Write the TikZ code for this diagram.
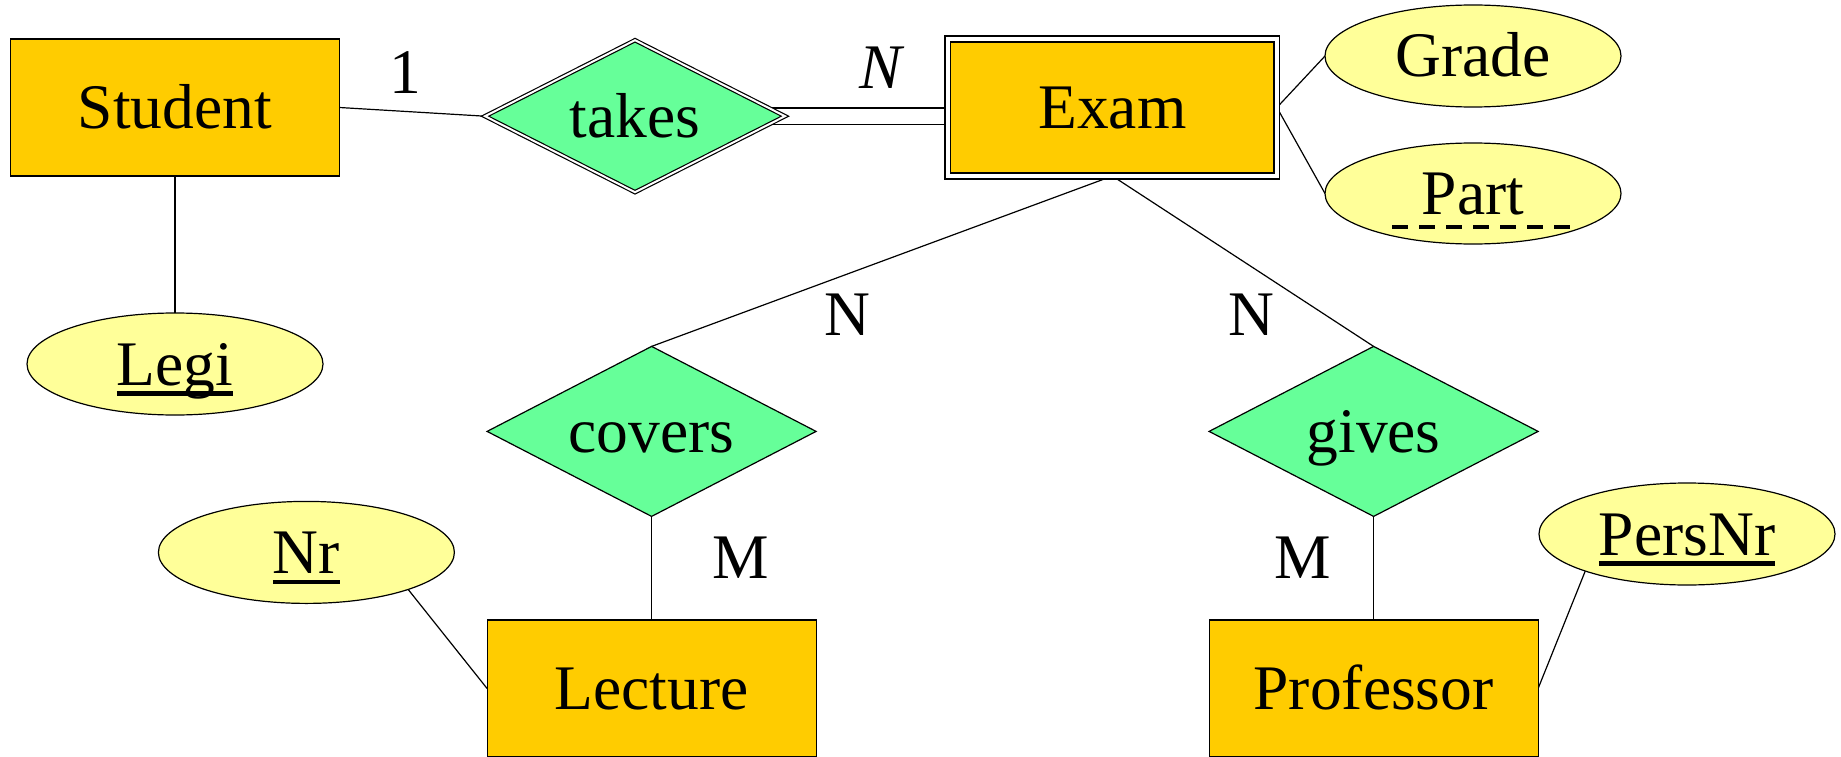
\documentclass[tikz,border=0pt]{standalone}
\usepackage{fontspec}
\setmainfont{Liberation Serif}
\usetikzlibrary{shapes.geometric,backgrounds,calc}
\definecolor{entfill}{HTML}{FFCC00}
\definecolor{relfill}{HTML}{66FF99}
\definecolor{attfill}{HTML}{FFFF99}
\newcommand\keyul[1]{\setbox0\hbox{#1}\rlap{\copy0}\rule[-10.5pt]{\wd0}{4.2pt}}
\begin{document}
\begin{tikzpicture}[x=1pt,y=-1pt,
  font=\fontsize{63.5pt}{76pt}\selectfont,
  every node/.style={inner sep=0pt, outer sep=0pt, text height=42pt, text depth=0pt},
  entity/.style={draw, line width=1.2pt, fill=entfill, minimum width=329pt, minimum height=137pt},
  weakentity/.style={entity, double=white, double distance=3.5pt, line width=1.8pt},
  rel/.style={diamond, draw, line width=1.2pt, fill=relfill, minimum width=329pt, minimum height=170pt},
  weakrel/.style={rel, double=white, double distance=2pt, line width=1.2pt},
  attr/.style={ellipse, draw, line width=1.2pt, fill=attfill, minimum width=296pt, minimum height=102pt},
  conn/.style={line width=1.2pt},
  card/.style={}]
\useasboundingbox (0,0) rectangle (1841,757);

% entities
\node[entity] (student) at (175,107.5) {Student};
\node[weakentity] (exam) at (1112.4,107.5) {Exam};
\node[entity] (lecture) at (651.6,688.5) {Lecture};
\node[entity] (professor) at (1373.6,688.5) {Professor};

% relationships
\node[weakrel, minimum width=300pt, minimum height=152pt, label={center:takes}] (takes) at (635,116.2) {};
\node[rel, label={center:covers}] (covers) at (651.6,431.4) {};
\node[rel, label={center:gives}] (gives) at (1373.6,431.4) {};

% attributes
\node[attr] (legi) at (175,364) {\keyul{Legi}};
\node[attr] (grade) at (1473,56) {Grade};
\node[attr, minimum height=101pt] (part) at (1473,193.5) {Part};
\node[attr] (nr) at (306.4,552.4) {\keyul{Nr}};
\node[attr] (persnr) at (1687,534) {\keyul{PersNr}};

% partial key underline
\draw[line width=4.5pt, dash pattern=on 16pt off 11pt] ($(part.center)+(-81,33.5)$) -- ($(part.center)+(99,33.5)$);

% cardinalities
\node[card] (c1) at (405,72.8) {1};
\node[card] (cN1) at (880.5,68) {\itshape N};
\node[card] (cN2) at (847.6,314.6) {N};
\node[card] (cN3) at (1251.5,314.6) {N};
\node[card] (cM1) at (740.8,557.7) {M};
\node[card] (cM2) at (1303,557.7) {M};

% connectors
\begin{scope}[on background layer]
\draw[conn] (student.east) -- (takes.west);
\draw[conn] (student.south) -- (legi.north);
\draw[conn, double=white, double distance=15.2pt] (takes.center) -- (takes.center -| exam.west);
\draw[conn] (exam.east) -- (grade.west);
\draw[conn] (exam.east) -- (part.west);
\draw[conn] (exam.south) -- (covers.north);
\draw[conn] (exam.south) -- (gives.north);
\draw[conn] (covers.south) -- (lecture.north);
\draw[conn] (gives.south) -- (professor.north);
\draw[conn] (nr.-20) -- (lecture.west);
\draw[conn] (persnr.200) -- (professor.east);
\end{scope}
\end{tikzpicture}
\end{document}
